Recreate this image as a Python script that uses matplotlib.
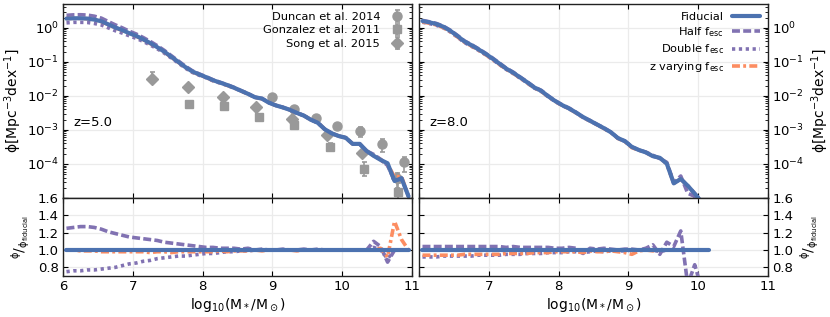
import numpy as np
import matplotlib
matplotlib.use("Agg")
import matplotlib.pyplot as plt
from matplotlib.ticker import FixedLocator, LogLocator, NullFormatter, FuncFormatter

plt.rcParams['font.family'] = ['DejaVu Sans']
plt.rcParams['mathtext.fontset'] = 'dejavusans'

# ---------------- data ----------------
# z = 5 model grid (log10 stellar mass)
m5 = [6.05, 6.15, 6.25, 6.35, 6.45, 6.55, 6.65, 6.75, 6.85, 6.95,
      7.05, 7.15, 7.25, 7.35, 7.45, 7.55, 7.65, 7.75, 7.85, 7.95,
      8.05, 8.15, 8.25, 8.35, 8.45, 8.55, 8.65, 8.75, 8.85, 8.95,
      9.05, 9.15, 9.25, 9.35, 9.45, 9.55, 9.65, 9.75, 9.85, 9.95,
      10.05, 10.15, 10.25, 10.35, 10.45, 10.55, 10.65, 10.75, 10.85, 10.95]
logphi_fid5 = [0.27, 0.28, 0.28, 0.27, 0.24, 0.19, 0.10, 0.01, -0.07, -0.16,
               -0.24, -0.34, -0.45, -0.57, -0.70, -0.85, -1.00, -1.15, -1.28, -1.37,
               -1.45, -1.54, -1.61, -1.68, -1.76, -1.85, -1.94, -2.04, -2.08, -2.20,
               -2.28, -2.34, -2.41, -2.50, -2.58, -2.70, -2.79, -2.98, -3.10, -3.18,
               -3.23, -3.41, -3.41, -3.62, -3.76, -3.88, -3.98, -4.50, -4.42, -4.95]
ratio_half5 = [1.25, 1.26, 1.27, 1.27, 1.26, 1.24, 1.21, 1.19, 1.17, 1.15,
               1.14, 1.13, 1.12, 1.11, 1.09, 1.08, 1.07, 1.06, 1.05, 1.04,
               1.03, 1.03, 1.02, 1.02, 1.02, 1.01, 1.02, 1.00, 1.01, 1.00,
               1.00, 1.01, 1.00, 1.00, 1.01, 1.00, 1.01, 1.00, 1.00, 1.00,
               1.00, 1.00, 1.00, 1.00, 1.10, 1.04, 0.86, 1.00, 1.00, 1.00]
ratio_double5 = [0.75, 0.76, 0.76, 0.77, 0.77, 0.78, 0.79, 0.80, 0.82, 0.84,
                 0.85, 0.87, 0.88, 0.90, 0.91, 0.92, 0.93, 0.93, 0.94, 0.95,
                 0.96, 0.96, 0.97, 0.98, 0.98, 0.99, 0.99, 1.00, 1.00, 1.00,
                 1.00, 1.00, 1.00, 1.00, 1.00, 1.00, 1.00, 1.00, 1.00, 1.00,
                 1.00, 1.00, 1.00, 1.00, 1.03, 1.00, 0.90, 1.00, 1.00, 1.00]
ratio_zvar5 = [1.00, 1.00, 0.99, 0.99, 0.99, 0.98, 0.98, 0.98, 0.98, 0.98,
               0.98, 0.98, 0.97, 0.98, 0.98, 0.97, 0.98, 0.98, 0.98, 0.98,
               0.98, 0.98, 0.99, 0.98, 0.99, 0.99, 0.99, 1.00, 0.99, 1.00,
               1.00, 1.00, 1.00, 0.99, 1.00, 1.00, 1.00, 1.00, 1.00, 1.00,
               1.00, 1.00, 1.00, 1.00, 1.00, 1.02, 0.92, 1.33, 1.12, 1.00]

# z = 8 model grid
m8 = [6.05, 6.15, 6.25, 6.35, 6.45, 6.55, 6.65, 6.75, 6.85, 6.95,
      7.05, 7.15, 7.25, 7.35, 7.45, 7.55, 7.65, 7.75, 7.85, 7.95,
      8.05, 8.15, 8.25, 8.35, 8.45, 8.55, 8.65, 8.75, 8.85, 8.95,
      9.05, 9.15, 9.25, 9.35, 9.45, 9.55, 9.65, 9.75, 9.85, 9.95,
      10.05, 10.15]
logphi_fid8 = [0.20, 0.16, 0.11, 0.03, -0.09, -0.24, -0.40, -0.51, -0.63, -0.76,
               -0.90, -1.05, -1.20, -1.32, -1.46, -1.60, -1.75, -1.85, -2.01, -2.15,
               -2.27, -2.37, -2.49, -2.62, -2.73, -2.84, -2.95, -3.07, -3.24, -3.33,
               -3.50, -3.59, -3.66, -3.77, -3.82, -3.99, -4.57, -4.44, -4.64, -4.87,
               -5.12, -5.35]
ratio_half8 = [1.04, 1.04, 1.04, 1.04, 1.04, 1.04, 1.04, 1.04, 1.04, 1.04,
               1.04, 1.04, 1.03, 1.04, 1.03, 1.03, 1.03, 1.03, 1.03, 1.02,
               1.02, 1.03, 1.02, 0.96, 1.02, 1.01, 1.02, 1.01, 1.00, 1.01,
               1.01, 1.00, 1.02, 1.06, 0.95, 1.09, 1.04, 1.22, 0.60, 0.83,
               0.55, np.nan]
ratio_double8 = [0.92, 0.92, 0.92, 0.93, 0.93, 0.93, 0.93, 0.93, 0.94, 0.94,
                 0.94, 0.94, 0.95, 0.95, 0.95, 0.96, 0.96, 0.96, 0.97, 0.97,
                 0.97, 0.98, 0.98, 0.97, 0.98, 0.99, 0.98, 0.99, 0.99, 0.99,
                 1.00, 1.00, 1.00, 1.00, 0.98, 1.00, 1.00, 1.00, 1.00, 1.00,
                 1.00, np.nan]
ratio_zvar8 = [0.94, 0.94, 0.94, 0.94, 0.94, 0.94, 0.95, 0.95, 0.95, 0.95,
               0.95, 0.95, 0.96, 0.96, 0.96, 0.96, 0.97, 0.97, 0.97, 0.98,
               0.98, 0.98, 0.98, 0.97, 0.99, 0.98, 0.98, 0.99, 0.98, 0.97,
               0.95, 0.99, 1.00, 0.99, 1.00, 1.00, 1.00, 1.00, 1.00, 1.00,
               1.00, np.nan]

# observations at z = 5 (log10 mass, log10 phi, errors in dex)
duncan_m = [9.00, 9.31, 9.62, 9.93, 10.25, 10.57, 10.88]
duncan_logphi = [-2.02, -2.38, -2.64, -2.88, -3.03, -3.41, -3.94]
duncan_elo = [0.08, 0.08, 0.06, 0.07, 0.17, 0.25, 0.30]
duncan_ehi = [0.07, 0.06, 0.05, 0.06, 0.12, 0.15, 0.15]

gonz_m = [7.81, 8.31, 8.81, 9.31, 9.82, 10.31, 10.80]
gonz_logphi = [-2.25, -2.29, -2.63, -2.85, -3.49, -4.15, -4.81]
gonz_elo = [0.08, 0.08, 0.08, 0.10, 0.12, 0.20, 0.25]
gonz_ehi = [0.08, 0.08, 0.08, 0.10, 0.12, 0.20, 0.25]

song_m = [7.28, 7.79, 8.29, 8.77, 9.28, 9.78, 10.28, 10.78]
song_logphi = [-1.50, -1.74, -2.02, -2.34, -2.69, -3.15, -3.67, -4.42]
song_elo = [0.12, 0.06, 0.05, 0.05, 0.05, 0.06, 0.10, 0.30]
song_ehi = [0.20, 0.08, 0.06, 0.05, 0.05, 0.06, 0.08, 0.15]

redshift_labels = ['z=5.0', 'z=8.0']
model_labels = ['Fiducial', r'Half f$_{\rm esc}$', r'Double f$_{\rm esc}$', r'z varying f$_{\rm esc}$']
obs_labels = ['Duncan et al. 2014', 'Gonzalez et al. 2011', 'Song et al. 2015']

# ---------------- style ----------------
C_BLUE = '#4C72B0'
C_PURPLE = '#8172B2'
C_ORANGE = '#FC8D62'
C_GRAY = '#999999'
LW_FID = 3.0
LW_VAR = 2.6
styles = [dict(color=C_BLUE, lw=LW_FID, ls='-', zorder=4, solid_capstyle='round'),
          dict(color=C_PURPLE, lw=LW_VAR, ls=(0, (2.2, 0.9)), zorder=3),
          dict(color=C_PURPLE, lw=LW_VAR, ls=(0, (0.9, 1.0)), zorder=3),
          dict(color=C_ORANGE, lw=LW_VAR, ls=(0, (2.2, 0.9, 0.8, 0.9)), zorder=3)]

FS = 9.5
LAB_FS = 10
LEG_FS = 8.2

fig = plt.figure(figsize=(8.3, 3.17), dpi=100)
W, H = 830.0, 317.0
lefts = [63 / W, 419 / W]
wid = 349 / W
top_bottom = 1 - 198 / H
top_h = 194 / H
bot_bottom = 1 - 276 / H
bot_h = 78 / H

panels = [
    (m5, logphi_fid5, [ratio_half5, ratio_double5, ratio_zvar5]),
    (m8, logphi_fid8, [ratio_half8, ratio_double8, ratio_zvar8]),
]

def style_axis(ax):
    ax.tick_params(which='both', direction='in', top=True, right=True,
                   bottom=True, left=True, labelsize=FS, colors='black')
    ax.tick_params(which='major', length=3.5, width=0.8, pad=3)
    ax.tick_params(which='minor', length=2, width=0.6)
    ax.grid(True, which='major', color='#ebebeb', lw=0.9, zorder=0)
    ax.set_axisbelow(True)
    for s in ax.spines.values():
        s.set_color('#222222')
        s.set_linewidth(1.0)

def log_fmt(v, p):
    if v < 5e-5:
        return ''
    return r'$10^{%d}$' % int(round(np.log10(v)))

ylab_top = 'ϕ[Mpc$^{-3}$dex$^{-1}$]'
ylab_bot = r'$^{\mathrm{\phi}}/_{\mathrm{\phi_{fiducial}}}$'

for i, (mm, lfid, ratios) in enumerate(panels):
    axt = fig.add_axes([lefts[i], top_bottom, wid, top_h])
    axb = fig.add_axes([lefts[i], bot_bottom, wid, bot_h])
    mm = np.array(mm)
    fid = 10 ** np.array(lfid)

    if i == 0:
        for (xm, yl, elo, ehi, mk, ms), lab in zip(
                [(duncan_m, duncan_logphi, duncan_elo, duncan_ehi, 'o', 6.5),
                 (gonz_m, gonz_logphi, gonz_elo, gonz_ehi, 's', 6.0),
                 (song_m, song_logphi, song_elo, song_ehi, 'D', 6.0)], obs_labels):
            yl = np.array(yl)
            yv = 10 ** yl
            lo = yv - 10 ** (yl - np.array(elo))
            hi = 10 ** (yl + np.array(ehi)) - yv
            axt.errorbar(xm, yv, yerr=[lo, hi], fmt=mk, color=C_GRAY, ms=ms,
                         mec=C_GRAY, elinewidth=1.2, capsize=1.8, capthick=1.2,
                         label=lab, zorder=2)

    phis = [fid] + [fid * np.array(r) for r in ratios]
    lines = []
    for phi, st, lab in zip(phis, styles, model_labels):
        ln, = axt.plot(mm, phi, label=lab, **st)
        lines.append(ln)
        axb.plot(mm, phi / fid, **st)

    axt.set_yscale('log')
    axt.set_ylim(1e-5, 5.0)
    axt.set_xlim(6, 11)
    axt.yaxis.set_major_locator(FixedLocator([1e-5, 1e-4, 1e-3, 1e-2, 1e-1, 1e0]))
    axt.yaxis.set_minor_locator(LogLocator(base=10, subs=np.arange(2, 10)))
    axt.yaxis.set_minor_formatter(NullFormatter())
    axt.yaxis.set_major_formatter(FuncFormatter(log_fmt))
    axt.set_xticks([6, 7, 8, 9, 10, 11])
    axt.tick_params(labelbottom=False)

    axb.set_xlim(6, 11)
    axb.set_ylim(0.7, 1.6)
    axb.set_yticks([0.8, 1.0, 1.2, 1.4, 1.6])
    axb.set_yticklabels(['0.8', '1.0', '1.2', '1.4', '1.6'])
    axb.set_xticks([6, 7, 8, 9, 10, 11])
    if i == 0:
        axb.set_xticklabels(['6', '7', '8', '9', '10', '11'])
    else:
        axb.set_xticklabels(['', '7', '8', '9', '10', '11'])

    style_axis(axt)
    style_axis(axb)
    axt.tick_params(labelbottom=False)

    if i == 1:
        axt.tick_params(labelleft=False, labelright=True)
        axb.tick_params(labelleft=False, labelright=True)
        axt.yaxis.set_label_position('right')
        axb.yaxis.set_label_position('right')
        axt.set_ylabel(ylab_top, fontsize=LAB_FS, rotation=90, labelpad=4)
        axb.set_ylabel(ylab_bot, fontsize=LAB_FS, rotation=90, labelpad=4)
    else:
        axt.set_ylabel(ylab_top, fontsize=LAB_FS, labelpad=2)
        axb.set_ylabel(ylab_bot, fontsize=LAB_FS, labelpad=4)

    axb.set_xlabel(r'$\mathrm{log_{10}(M_*/M_\odot)}$', fontsize=LAB_FS, labelpad=2)
    axt.text(0.03, 0.387, redshift_labels[i], transform=axt.transAxes,
             fontsize=FS, va='center', ha='left')

    if i == 0:
        handles, labels_ = axt.get_legend_handles_labels()
        obs_h = [h for h, l in zip(handles, labels_) if l in obs_labels]
        axt.legend(obs_h, obs_labels, loc='upper right', frameon=False,
                   markerfirst=False, fontsize=LEG_FS, handlelength=1.2,
                   labelspacing=0.3, borderaxespad=0.3, handletextpad=0.9)
    else:
        axt.legend(lines, model_labels, loc='upper right', frameon=False,
                   markerfirst=False, fontsize=LEG_FS, handlelength=2.5,
                   labelspacing=0.3, borderaxespad=0.3, handletextpad=0.7)

fig.savefig('out.png', dpi=100)
